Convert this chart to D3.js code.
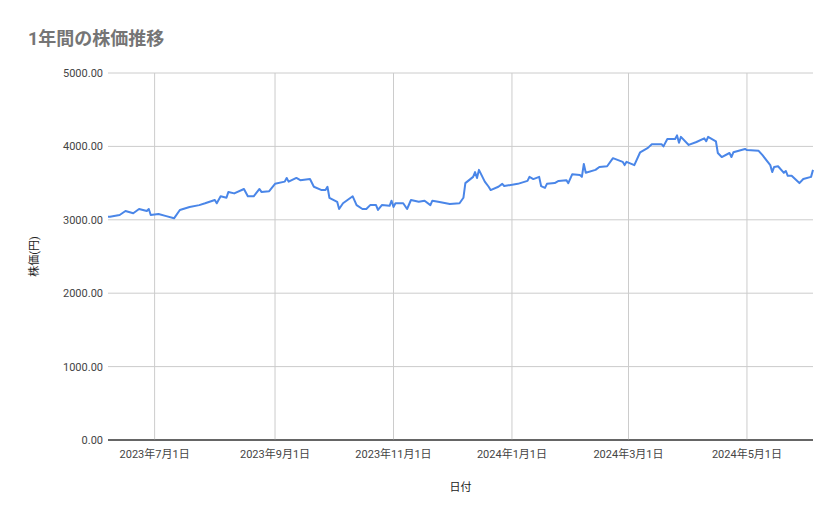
<!DOCTYPE html>
<html>
<head>
<meta charset="utf-8">
<script src="https://cdn.jsdelivr.net/npm/d3@7"></script>
<style>
  body { margin: 0; background: #fff; }
  text { font-family: Roboto, "Noto Sans CJK JP", sans-serif; }
</style>
</head>
<body>
<div id="root"></div>
<script>
const width = 839;
const height = 519;

const dates = ["2023-06-07","2023-06-08","2023-06-13","2023-06-16","2023-06-20","2023-06-23","2023-06-27","2023-06-28","2023-06-29",
  "2023-07-03","2023-07-07","2023-07-11","2023-07-14","2023-07-19","2023-07-24","2023-07-27","2023-08-01","2023-08-02","2023-08-04",
  "2023-08-07","2023-08-08","2023-08-11","2023-08-16","2023-08-18","2023-08-21","2023-08-24","2023-08-25","2023-08-29","2023-09-01",
  "2023-09-06","2023-09-07","2023-09-08","2023-09-12","2023-09-14","2023-09-19","2023-09-21","2023-09-25","2023-09-27","2023-09-28",
  "2023-09-29","2023-10-03","2023-10-04","2023-10-06","2023-10-11","2023-10-13","2023-10-16","2023-10-18","2023-10-20","2023-10-23",
  "2023-10-24","2023-10-26","2023-10-30","2023-10-31","2023-11-01","2023-11-02","2023-11-06","2023-11-08","2023-11-10","2023-11-14",
  "2023-11-17","2023-11-20","2023-11-21","2023-11-24","2023-11-30","2023-12-05","2023-12-07","2023-12-08","2023-12-12","2023-12-13",
  "2023-12-14","2023-12-15","2023-12-18","2023-12-20","2023-12-21","2023-12-25","2023-12-27","2023-12-28","2024-01-04","2024-01-09",
  "2024-01-10","2024-01-12","2024-01-15","2024-01-16","2024-01-18","2024-01-19","2024-01-23","2024-01-25","2024-01-29","2024-01-30",
  "2024-02-01","2024-02-05","2024-02-06","2024-02-07","2024-02-08","2024-02-13","2024-02-15","2024-02-19","2024-02-22","2024-02-27",
  "2024-02-28","2024-02-29","2024-03-04","2024-03-07","2024-03-11","2024-03-13","2024-03-18","2024-03-19","2024-03-21","2024-03-25",
  "2024-03-26","2024-03-27","2024-03-28","2024-04-01","2024-04-05","2024-04-09","2024-04-10","2024-04-11","2024-04-15","2024-04-16",
  "2024-04-18","2024-04-22","2024-04-23","2024-04-24","2024-04-30","2024-05-01","2024-05-07","2024-05-09","2024-05-13","2024-05-14",
  "2024-05-15","2024-05-17","2024-05-20","2024-05-21","2024-05-22","2024-05-24","2024-05-28","2024-05-30","2024-06-03","2024-06-04"];

const prices = [3040,3042,3065,3120,3090,3147,3120,3147,3065,
  3080,3050,3020,3134,3175,3200,3225,3270,3225,3320,
  3300,3380,3360,3420,3320,3320,3420,3380,3390,3490,
  3520,3570,3520,3570,3540,3555,3450,3405,3405,3450,
  3300,3245,3147,3225,3320,3200,3147,3147,3200,3200,
  3134,3200,3190,3260,3175,3225,3225,3147,3270,3245,
  3260,3200,3260,3245,3215,3225,3300,3500,3585,3650,
  3570,3680,3520,3450,3405,3450,3490,3460,3490,3530,
  3585,3555,3585,3460,3435,3490,3500,3530,3540,3500,
  3620,3610,3585,3760,3640,3680,3720,3730,3840,3790,
  3745,3790,3745,3920,3980,4030,4030,4000,4100,4100,
  4150,4050,4130,4020,4060,4110,4070,4130,4070,3910,
  3855,3910,3855,3920,3965,3950,3940,3880,3745,3650,
  3720,3730,3640,3665,3600,3600,3500,3555,3585,3680];

const yTicks = [0, 1000, 2000, 3000, 4000, 5000];
const xTicks = ["2023-07-01","2023-09-01","2023-11-01","2024-01-01","2024-03-01","2024-05-01"];

const parse = d3.timeParse("%Y-%m-%d");
const data = dates.map((d, i) => ({ date: parse(d), value: prices[i] }));

const margin = { left: 108, right: 26, top: 73, bottom: 79 };

const x = d3.scaleTime()
  .domain([parse("2023-06-07"), parse("2024-06-04")])
  .range([margin.left, width - margin.right]);

const y = d3.scaleLinear()
  .domain([0, 5000])
  .range([height - margin.bottom, margin.top]);

const svg = d3.select("#root").append("svg")
  .attr("width", width)
  .attr("height", height);

// horizontal grid + labels
svg.selectAll(".hgrid")
  .data(yTicks)
  .enter()
  .append("line")
  .attr("x1", margin.left)
  .attr("x2", width - margin.right)
  .attr("y1", d => y(d))
  .attr("y2", d => y(d))
  .attr("stroke", d => d === 0 ? "#333" : "#cccccc")
  .attr("stroke-width", 1);

svg.selectAll(".ylab")
  .data(yTicks)
  .enter()
  .append("text")
  .attr("x", margin.left - 5)
  .attr("y", d => y(d) + 4)
  .attr("text-anchor", "end")
  .attr("font-size", "11px")
  .attr("fill", "#444")
  .text(d => d3.format(".2f")(d));

// vertical grid + labels
svg.selectAll(".vgrid")
  .data(xTicks)
  .enter()
  .append("line")
  .attr("x1", d => x(parse(d)))
  .attr("x2", d => x(parse(d)))
  .attr("y1", margin.top)
  .attr("y2", height - margin.bottom)
  .attr("stroke", "#cccccc");

svg.selectAll(".xlab")
  .data(xTicks)
  .enter()
  .append("text")
  .attr("x", d => x(parse(d)))
  .attr("y", height - margin.bottom + 18)
  .attr("text-anchor", "middle")
  .attr("font-size", "11px")
  .attr("fill", "#444")
  .text(d => d3.timeFormat("%Y年%-m月%-d日")(parse(d)));

// redraw baseline on top of vertical grid
svg.append("line")
  .attr("x1", margin.left)
  .attr("x2", width - margin.right)
  .attr("y1", y(0))
  .attr("y2", y(0))
  .attr("stroke", "#333");

const line = d3.line()
  .x(d => x(d.date))
  .y(d => y(d.value));

svg.append("path")
  .datum(data)
  .attr("fill", "none")
  .attr("stroke", "#4a86e8")
  .attr("stroke-width", 2)
  .attr("stroke-linejoin", "round")
  .attr("d", line);

svg.append("text")
  .attr("x", 28)
  .attr("y", 45)
  .attr("font-size", "18px")
  .attr("font-weight", "bold")
  .attr("fill", "#757575")
  .text("1年間の株価推移");

svg.append("text")
  .attr("transform", "translate(38," + (y(2500)) + ") rotate(-90)")
  .attr("text-anchor", "middle")
  .attr("font-size", "11px")
  .attr("fill", "#222")
  .text("株価(円)");

svg.append("text")
  .attr("x", (margin.left + width - margin.right) / 2)
  .attr("y", 491)
  .attr("text-anchor", "middle")
  .attr("font-size", "11px")
  .attr("fill", "#222")
  .text("日付");
</script>
</body>
</html>
